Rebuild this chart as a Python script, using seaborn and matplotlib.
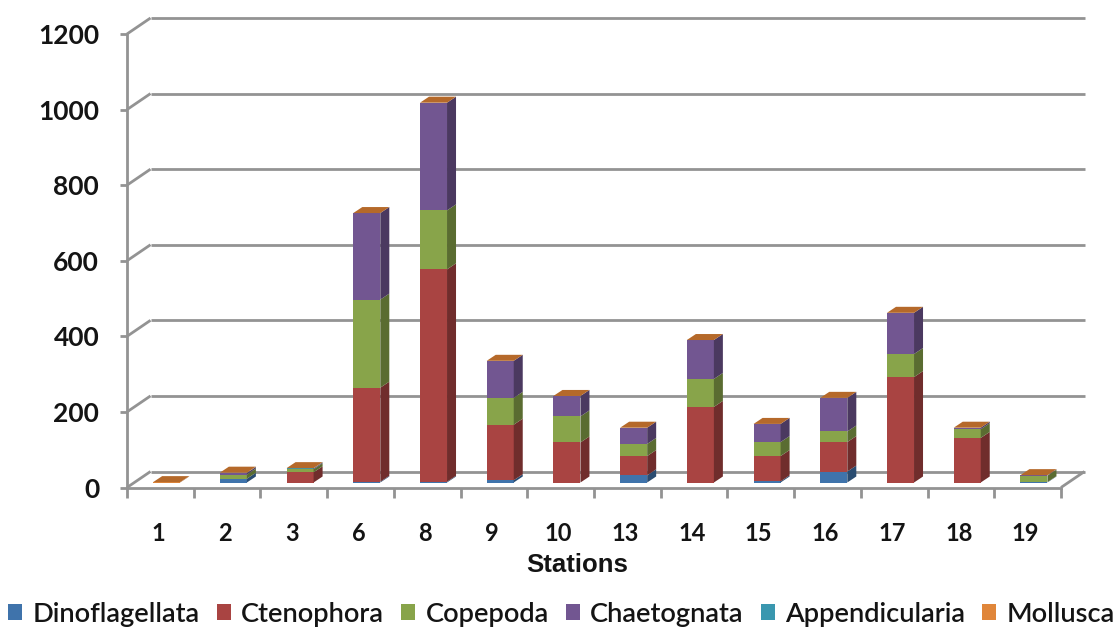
import numpy as np
import matplotlib
matplotlib.use("Agg")
import matplotlib.pyplot as plt
from matplotlib.colors import to_rgb
from matplotlib.patches import Patch, Polygon
from matplotlib.transforms import ScaledTranslation
import seaborn as sns

stations = ["1", "2", "3", "6", "8", "9", "10", "13", "14", "15", "16", "17", "18", "19"]
dinoflagellata = [0, 10, 0, 2, 2, 6, 0, 19, 0, 3, 29, 0, 0, 1]
ctenophora = [0, 0, 27, 249, 562, 147, 106, 51, 200, 67, 78, 279, 118, 0]
copepoda = [0, 11, 8, 233, 156, 71, 69, 32, 74, 37, 28, 61, 23, 17]
chaetognata = [0, 4, 2, 229, 285, 98, 54, 43, 103, 48, 89, 109, 4, 1]
appendicularia = [0, 0.5, 0.5, 0, 0, 0, 0, 0, 0, 0, 0, 0, 0, 0]
mollusca = [1, 0.5, 0.5, 0, 0, 0, 0, 0, 0, 0, 0, 0, 0, 0.5]

series_names = ["Dinoflagellata", "Ctenophora", "Copepoda", "Chaetognata", "Appendicularia", "Mollusca"]
series_values = [dinoflagellata, ctenophora, copepoda, chaetognata, appendicularia, mollusca]
series_colors = ["#3F73AB", "#A94442", "#88A44A", "#725691", "#3A97AF", "#E0863A"]
y_ticks = [0, 200, 400, 600, 800, 1000, 1200]

GREY = "#939393"
TEXT = "#141414"
WIDTH, HEIGHT = 1115, 627
LEFT, RIGHT, TOP, BOTTOM = 127, 1061, 34, 487.5

sns.set_style("white")
plt.rcParams["font.family"] = ["Lato", "DejaVu Sans"]

fig = plt.figure(figsize=(WIDTH / 100, HEIGHT / 100), dpi=100)
ax = fig.add_axes([LEFT / WIDTH, 1 - BOTTOM / HEIGHT, (RIGHT - LEFT) / WIDTH, (BOTTOM - TOP) / HEIGHT])
ax.patch.set_alpha(0)

n = len(stations)
cat_px = (RIGHT - LEFT) / n
val_px = (BOTTOM - TOP) / 1200


def to_x(px):
    return px / cat_px


def to_y(px):
    return px / val_px


def darker(color, factor):
    return tuple(c * factor for c in to_rgb(color))


# Stacked front faces; each segment sits on the running total of the ones below.
running = np.zeros(n)
bar_segments = []
for name, values, color in zip(series_names, series_values, series_colors):
    before = len(ax.patches)
    sns.barplot(x=stations, y=values, bottom=running, color=color, saturation=1,
                width=0.405, order=stations, ax=ax, zorder=3, linewidth=0)
    bar_segments.append((color, ax.patches[before:]))
    running = running + np.array(values, dtype=float)

ax.set_xlim(-0.5, n - 0.5)
ax.set_ylim(0, 1200)

# Depth of the chart box and of the columns, in pixels.
wall_dx, wall_dy = to_x(23.5), to_y(16)
bar_shift_x, bar_shift_y = to_x(6.3), to_y(5)
bar_dx, bar_dy = to_x(9), to_y(6)

for color, patches in bar_segments:
    for patch in patches:
        patch.set_x(patch.get_x() + bar_shift_x)
        patch.set_y(patch.get_y() + bar_shift_y)
        x1 = patch.get_x() + patch.get_width()
        y0, y1 = patch.get_y(), patch.get_y() + patch.get_height()
        if y1 > y0:
            ax.add_patch(Polygon([(x1, y0), (x1 + bar_dx, y0 + bar_dy), (x1 + bar_dx, y1 + bar_dy), (x1, y1)],
                                 closed=True, facecolor=darker(color, 0.66), linewidth=0, zorder=3))

# Orange caps on top of every column.
for patch, total in zip(bar_segments[-1][1], running):
    x0, x1 = patch.get_x(), patch.get_x() + patch.get_width()
    y1 = total + bar_shift_y
    ax.add_patch(Polygon([(x0, y1), (x1, y1), (x1 + bar_dx, y1 + bar_dy), (x0 + bar_dx, y1 + bar_dy)],
                         closed=True, facecolor="#B5692A", linewidth=0, zorder=3.1))

# Back wall gridlines and the diagonals that join them to the value axis.
line_kw = dict(color=GREY, linewidth=2, clip_on=False, zorder=1, solid_capstyle="butt")
x_start, x_end = -0.5, n - 0.5
for tick in y_ticks:
    ax.plot([x_start + wall_dx, x_end + wall_dx], [tick + wall_dy] * 2, **line_kw)
    ax.plot([x_start, x_start + wall_dx], [tick, tick + wall_dy], **line_kw)
ax.plot([x_end, x_end + wall_dx], [0, wall_dy], **line_kw)

sns.despine(ax=ax)
for side in ("left", "bottom"):
    ax.spines[side].set_color(GREY)
    ax.spines[side].set_linewidth(2)

ax.set_yticks(y_ticks)
ax.set_yticklabels([str(t) for t in y_ticks], fontsize=19, fontweight="bold", color=TEXT)
ax.tick_params(axis="y", length=5, width=2, color=GREY, pad=15, left=True)
ax.set_xticks(np.arange(n))
ax.set_xticklabels(stations, fontsize=17, fontweight="bold", color=TEXT)
ax.set_xticks(np.arange(n + 1) - 0.5, minor=True)
ax.tick_params(axis="x", which="major", length=0, pad=25)
ax.tick_params(axis="x", which="minor", length=7, width=2, color=GREY, bottom=True)
nudge = ScaledTranslation(-2 / 100, 0, fig.dpi_scale_trans)
for label in ax.get_xticklabels():
    label.set_transform(label.get_transform() + nudge)

ax.set_xlabel("Stations", fontsize=18.5, fontweight="bold", family="Liberation Sans", color=TEXT, va="center")
ax.xaxis.set_label_coords((577 - LEFT) / (RIGHT - LEFT), (BOTTOM - 565) / (BOTTOM - TOP))
ax.set_ylabel("")

handles = [Patch(facecolor=c, linewidth=0) for c in series_colors]
fig.legend(handles, series_names, loc="lower center", bbox_to_anchor=(0.5035, -0.034), ncol=6, frameon=False,
           prop={"size": 19.6, "weight": "semibold"}, handlelength=0.52, handleheight=0.52,
           handletextpad=0.37, columnspacing=0.63, labelcolor=TEXT, borderaxespad=0.4)

fig.savefig("out.png", dpi=100)
